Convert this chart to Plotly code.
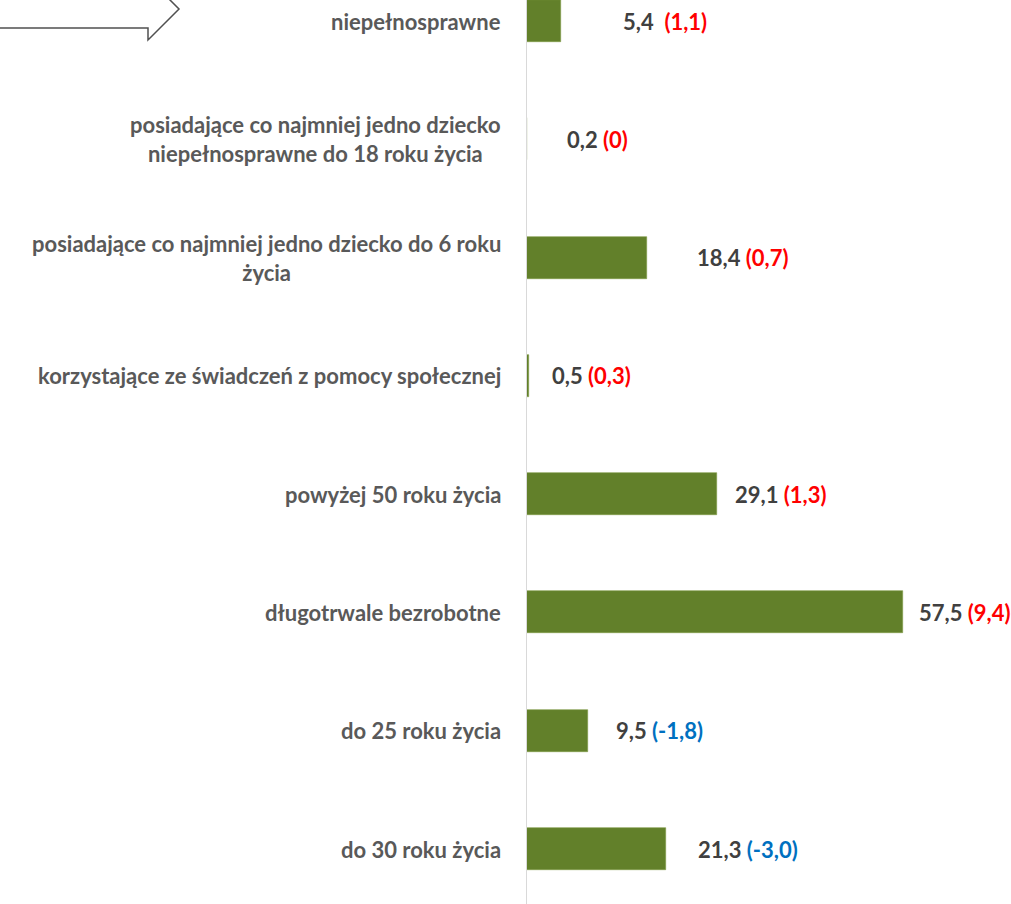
import plotly.graph_objects as go

# data (bottom to top)
categories = [
    "do 30 roku życia",
    "do 25 roku życia",
    "długotrwale bezrobotne",
    "powyżej 50 roku życia",
    "korzystające ze świadczeń z pomocy społecznej",
    "posiadające co najmniej jedno dziecko do 6 roku<br>życia",
    "posiadające co najmniej jedno dziecko<br>niepełnosprawne do 18 roku życia",
    "niepełnosprawne",
]
values = [21.3, 9.5, 57.5, 29.1, 0.5, 18.4, 0.2, 5.4]
value_text = ["21,3", "9,5", "57,5", "29,1", "0,5", "18,4", "0,2", "5,4 "]
change_text = ["(-3,0)", "(-1,8)", "(9,4)", "(1,3)", "(0,3)", "(0,7)", "(0)", "(1,1)"]
change_sign = [-1, -1, 1, 1, 1, 1, 1, 1]

# layout tweaks (pixel offsets of value labels from bar end)
label_dx = [30, 26, 14, 16, 21, 48, 38, 60]

W, H = 1011, 904
ML = 526
FONT = "Lato"
FS = 22
GREEN = "#62802A"
CAT_COLOR = "#595959"
VAL_COLOR = "#404040"
RED = "#FF0000"
BLUE = "#0070C0"

fig = go.Figure()
fig.add_trace(go.Bar(
    y=categories, x=values, orientation="h",
    marker=dict(color=GREEN, line=dict(color="#7f9a45", width=0.6)),
    width=0.355, hoverinfo="skip",
))

ann = []
for c, v, vt, ct, s, dx in zip(categories, values, value_text, change_text, change_sign, label_dx):
    ann.append(dict(
        x=0, xref="paper", y=c, yref="y", xanchor="right", yanchor="middle",
        xshift=-23, text=f"<b>{c}</b>", showarrow=False, align="center",
        font=dict(family=FONT, size=FS, color=CAT_COLOR),
    ))
    col = RED if s > 0 else BLUE
    ann.append(dict(
        x=v, xref="x", y=c, yref="y", xanchor="left", yanchor="middle",
        xshift=dx, showarrow=False,
        text=f"<b>{vt} <span style='color:{col}'>{ct}</span></b>",
        font=dict(family=FONT, size=FS, color=VAL_COLOR),
    ))

plot_w = W - ML
def px(xp):
    return (xp - ML) / plot_w
def py(yp):
    return 1 - yp / H

arrow = (f"M {px(0)},{py(28)} L {px(148)},{py(28)} L {px(148)},{py(40)} "
         f"L {px(179)},{py(9)} L {px(166)},{py(-4)}")

shapes = [
    dict(type="line", xref="x", yref="paper", x0=0, x1=0, y0=0, y1=1,
         line=dict(color="#D9D9D9", width=2), layer="above"),
    dict(type="path", xref="paper", yref="paper", path=arrow,
         line=dict(color="#505050", width=1.5)),
]

fig.update_layout(
    width=W, height=H,
    margin=dict(l=ML, r=0, t=0, b=0),
    plot_bgcolor="white", paper_bgcolor="white",
    showlegend=False,
    xaxis=dict(range=[0, (W - ML) / 6.557], visible=False, fixedrange=True),
    yaxis=dict(range=[-0.465, 7.178], showticklabels=False, showgrid=False,
               zeroline=False, showline=False, ticks="", fixedrange=True),
    annotations=ann, shapes=shapes,
    bargap=0,
)

fig.write_html("out.html", config={"displayModeBar": False},
               post_script="document.body.style.margin='0';document.body.style.overflow='hidden';")
